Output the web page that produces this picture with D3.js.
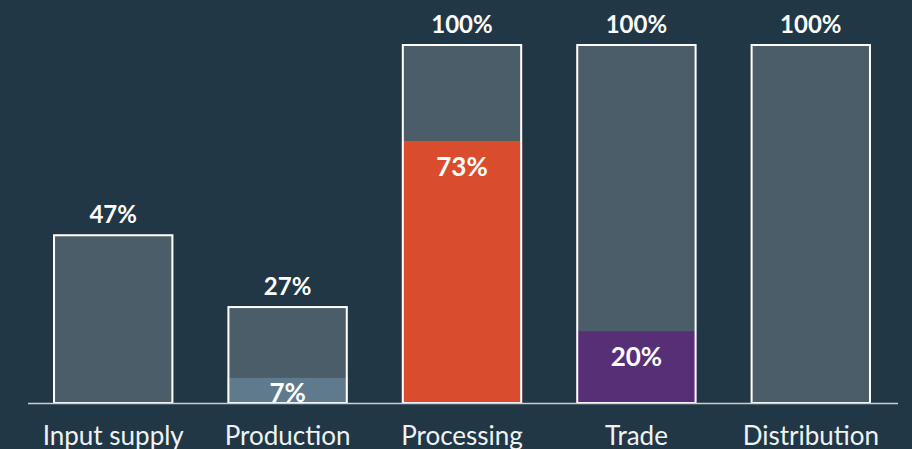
<!DOCTYPE html>
<html>
<head>
<meta charset="utf-8">
<script src="https://cdn.jsdelivr.net/npm/d3@7"></script>
<style>
  html, body { margin: 0; padding: 0; background: #213746; }
  svg { display: block; }
</style>
</head>
<body>
<svg id="chart" width="912" height="449"></svg>
<script>
const categories = ['Input supply', 'Production', 'Processing', 'Trade', 'Distribution']
const totalValues = [47, 27, 100, 100, 100]
const innerValues = [null, 7, 73, 20, null]
const innerColors = [null, '#5f7a8c', '#da4c2e', '#572f77', null]

const width = 912
const height = 449
const baseline = 403

const svg = d3.select('#chart')

const x = d3.scaleBand()
  .domain(categories)
  .range([26, 898])
  .paddingInner(0.31)
  .paddingOuter(0.155)

const y = d3.scaleLinear()
  .domain([0, 100])
  .range([baseline, 44])

const data = categories.map((c, i) => ({
  cat: c,
  total: totalValues[i],
  inner: innerValues[i],
  color: innerColors[i]
}))

// outer bars
svg.selectAll('.outer')
  .data(data)
  .enter()
  .append('rect')
  .attr('class', 'outer')
  .attr('x', d => x(d.cat))
  .attr('y', d => y(d.total))
  .attr('width', x.bandwidth())
  .attr('height', d => y(0) - y(d.total))
  .attr('fill', '#4a5d68')

// inner bars
const inner = data.filter(d => d.inner != null)
svg.selectAll('.inner')
  .data(inner)
  .enter()
  .append('rect')
  .attr('class', 'inner')
  .attr('x', d => x(d.cat))
  .attr('y', d => y(d.inner))
  .attr('width', x.bandwidth())
  .attr('height', d => y(0) - y(d.inner))
  .attr('fill', d => d.color)

// white outline
svg.selectAll('.outline')
  .data(data)
  .enter()
  .append('rect')
  .attr('class', 'outline')
  .attr('x', d => x(d.cat) + 1)
  .attr('y', d => y(d.total) + 1)
  .attr('width', x.bandwidth() - 2)
  .attr('height', d => y(0) - y(d.total) - 1)
  .attr('fill', 'none')
  .attr('stroke', '#ffffff')
  .attr('stroke-width', 2)

// axis line
const axis = svg.append('g')
  .attr('transform', `translate(0,${baseline})`)
  .call(d3.axisBottom(x).tickSize(0).tickPadding(0))
axis.select('.domain')
  .attr('d', 'M28,0.5H898')
  .attr('stroke', '#c9d0d4')
  .attr('stroke-width', 1.5)
axis.selectAll('.tick text')
  .attr('y', 42)
  .attr('dy', 0)
  .attr('fill', '#eef2f3')
  .attr('font-family', 'Lato, sans-serif')
  .attr('font-size', 26)
  .attr('font-weight', 400)

// top value labels
svg.selectAll('.total-label')
  .data(data)
  .enter()
  .append('text')
  .attr('x', d => x(d.cat) + x.bandwidth() / 2)
  .attr('y', d => y(d.total) - 11)
  .attr('text-anchor', 'middle')
  .attr('fill', '#ffffff')
  .attr('font-family', 'Lato, sans-serif')
  .attr('font-weight', 700)
  .attr('font-size', 24)
  .text(d => d.total + '%')

// inner value labels
svg.selectAll('.inner-label')
  .data(inner)
  .enter()
  .append('text')
  .attr('x', d => x(d.cat) + x.bandwidth() / 2)
  .attr('y', d => Math.min(y(d.inner) + 35, baseline - 1))
  .attr('text-anchor', 'middle')
  .attr('fill', '#ffffff')
  .attr('font-family', 'Lato, sans-serif')
  .attr('font-weight', 700)
  .attr('font-size', 26)
  .text(d => d.inner + '%')
</script>
</body>
</html>
